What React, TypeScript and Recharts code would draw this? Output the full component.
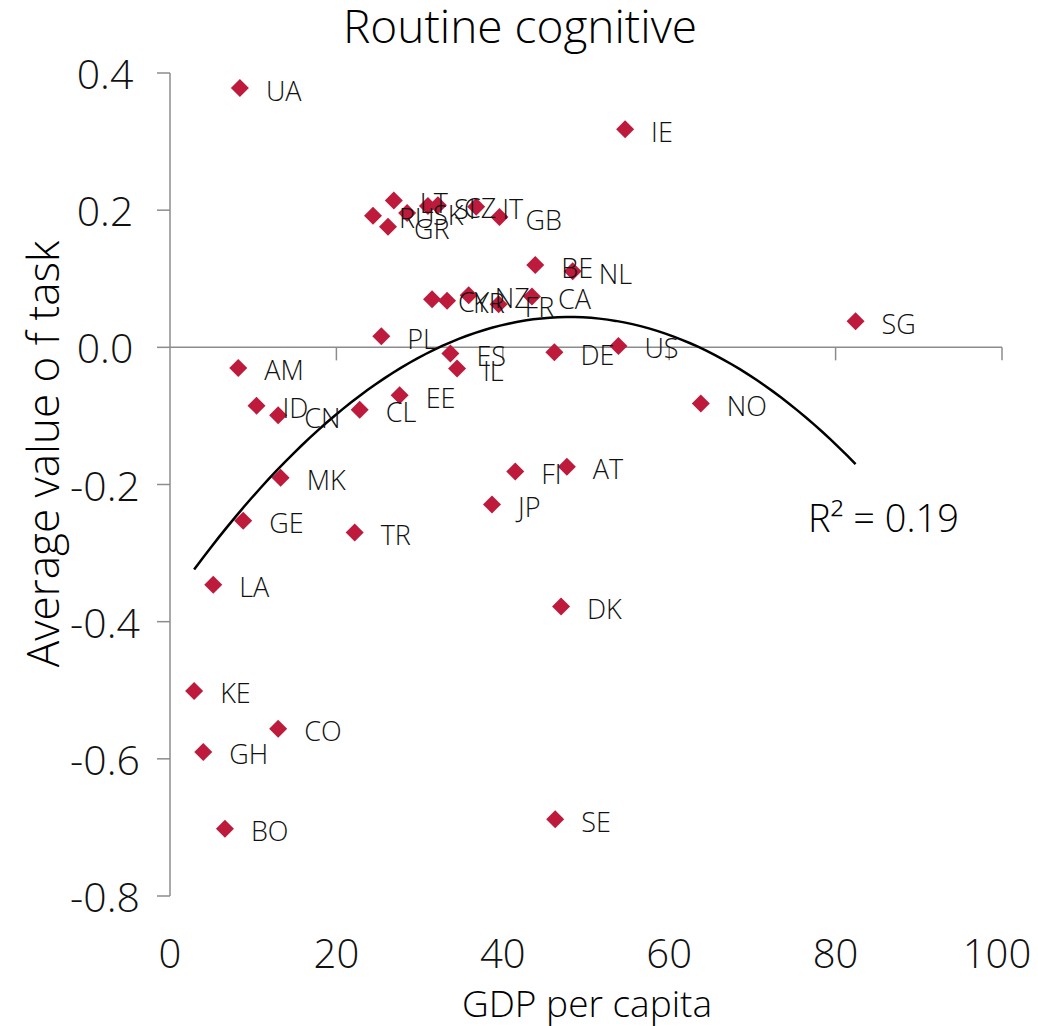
import React from "react";
import { ScatterChart, Scatter, XAxis, YAxis, ReferenceLine } from "recharts";

const countries = ["UA","IE","LT","SI","CZ","IT","GB","RU","SK","GR","BE","NL","CY","KR","NZ","FR","CA","PL","SG","ES","IL","DE","US","AM","ID","CN","EE","CL","NO","MK","FI","AT","GE","JP","TR","LA","DK","KE","CO","GH","BO","SE"];
const gdpPerCapita = [8.4,54.7,26.9,31.0,32.2,36.8,39.6,24.4,28.5,26.2,43.9,48.4,31.5,33.3,35.9,39.5,43.5,25.4,82.4,33.7,34.5,46.2,53.9,8.2,10.4,13.0,27.6,22.8,63.8,13.3,41.5,47.7,8.8,38.7,22.2,5.2,47.0,2.9,13.0,4.0,6.6,46.3];
const taskValue = [0.378,0.318,0.214,0.206,0.207,0.205,0.19,0.192,0.196,0.176,0.12,0.111,0.07,0.068,0.076,0.063,0.074,0.016,0.038,-0.009,-0.031,-0.007,0.002,-0.03,-0.085,-0.099,-0.07,-0.091,-0.082,-0.19,-0.181,-0.174,-0.253,-0.229,-0.27,-0.346,-0.378,-0.501,-0.556,-0.59,-0.702,-0.688];
const xTicks = [0, 20, 40, 60, 80, 100];
const yTicks = [-0.8, -0.6, -0.4, -0.2, 0, 0.2, 0.4];
const titleText = "Routine cognitive";
const xTitle = "GDP per capita";
const yTitle = "Average value o f task";
const rSquaredLabel = "R² = 0.19";

const FONT = "'Open Sans', 'DejaVu Sans', sans-serif";
const WEIGHT = 300;
const RED = "#BE1A3C";
const AXIS = "#8c8c8c";

const points = countries.map((c, i) => ({ name: c, x: gdpPerCapita[i], y: taskValue[i] }));

function fitQuadratic(xs: number[], ys: number[]) {
  const S = [0, 0, 0, 0, 0];
  const T = [0, 0, 0];
  for (let i = 0; i < xs.length; i++) {
    let p = 1;
    for (let k = 0; k < 5; k++) { S[k] += p; p *= xs[i]; }
    T[0] += ys[i]; T[1] += ys[i] * xs[i]; T[2] += ys[i] * xs[i] * xs[i];
  }
  const M = [
    [S[0], S[1], S[2], T[0]],
    [S[1], S[2], S[3], T[1]],
    [S[2], S[3], S[4], T[2]],
  ];
  for (let c = 0; c < 3; c++) {
    for (let r = c + 1; r < 3; r++) {
      const f = M[r][c] / M[c][c];
      for (let k = c; k < 4; k++) M[r][k] -= f * M[c][k];
    }
  }
  const b = [0, 0, 0];
  for (let r = 2; r >= 0; r--) {
    let s = M[r][3];
    for (let k = r + 1; k < 3; k++) s -= M[r][k] * b[k];
    b[r] = s / M[r][r];
  }
  return b;
}

const coef = fitQuadratic(gdpPerCapita, taskValue);
const xMin = Math.min(...gdpPerCapita);
const xMax = Math.max(...gdpPerCapita);
const trend = Array.from({ length: 81 }, (_, i) => {
  const x = xMin + ((xMax - xMin) * i) / 80;
  return { x, y: coef[0] + coef[1] * x + coef[2] * x * x };
});

const Diamond = (props: any) => {
  const { cx, cy } = props;
  const h = 9;
  return <polygon points={`${cx},${cy - h} ${cx + h},${cy} ${cx},${cy + h} ${cx - h},${cy}`} fill={RED} />;
};

const PointLabel = (props: any) => {
  const { cx, cy, payload } = props;
  return (
    <text x={cx + 26} y={cy + 2} dominantBaseline="central" fontSize={27} fontWeight={WEIGHT} fontFamily={FONT} fill="#111">
      {payload.name}
    </text>
  );
};

const Empty = () => <g />;

const XTick = (props: any) => {
  const { x, y, payload, index } = props;
  const last = index === xTicks.length - 1;
  return (
    <text x={x} dx={last ? -5 : 0} y={y + 54} textAnchor="middle" dominantBaseline="central" fontSize={40} fontWeight={WEIGHT} fontFamily={FONT} fill="#111">
      {payload.value}
    </text>
  );
};

const YTick = (props: any) => {
  const { x, y, payload } = props;
  return (
    <text x={x - 50} y={y} textAnchor="middle" dominantBaseline="central" fontSize={41} fontWeight={WEIGHT} fontFamily={FONT} fill="#111">
      {Number(payload.value).toFixed(1)}
    </text>
  );
};

export default function App() {
  return (
    <div style={{ position: "relative", width: 1030, height: 1018, fontFamily: FONT, background: "#fff" }}>
      <ScatterChart width={1030} height={1018} margin={{ top: 65, right: 36, bottom: 8, left: 0 }} style={{ overflow: "visible" }}>
        <XAxis
          type="number"
          dataKey="x"
          domain={[0, 100]}
          ticks={xTicks}
          interval={0}
          axisLine={false}
          tickLine={false}
          tickSize={0}
          height={122}
          tick={<XTick />}
          allowDataOverflow
        />
        <YAxis
          type="number"
          dataKey="y"
          domain={[-0.8, 0.4]}
          ticks={yTicks}
          interval={0}
          width={162}
          axisLine={{ stroke: AXIS, strokeWidth: 1.5 }}
          tickLine={{ stroke: AXIS, strokeWidth: 1.5 }}
          tickSize={13}
          tick={<YTick />}
          allowDataOverflow
        />
        <ReferenceLine y={0} stroke={AXIS} strokeWidth={1.5} />
        {xTicks.filter((t) => t > 0).map((t) => (
          <ReferenceLine key={t} segment={[{ x: t, y: 0 }, { x: t, y: -0.019 }]} stroke={AXIS} strokeWidth={1.5} />
        ))}
        <Scatter data={points} shape={<Diamond />} isAnimationActive={false} />
        <Scatter data={trend} line={{ stroke: "#000", strokeWidth: 2.5 }} lineType="joint" shape={<Empty />} isAnimationActive={false} />
        <Scatter data={points} shape={<PointLabel />} isAnimationActive={false} />
        <text x={512} y={35} textAnchor="middle" fontSize={46} fontWeight={WEIGHT} fontFamily={FONT} fill="#000">{titleText}</text>
        <text x={579} y={1009} textAnchor="middle" fontSize={37} fontWeight={WEIGHT} fontFamily={FONT} fill="#000">{xTitle}</text>
        <text x={34} y={446} transform="rotate(-90 34 446)" textAnchor="middle" dominantBaseline="central" fontSize={44} fontWeight={WEIGHT} fontFamily={FONT} fill="#000">{yTitle}</text>
        <text x={800} y={509} dominantBaseline="central" fontSize={38} fontWeight={WEIGHT} fontFamily={FONT} fill="#000">{rSquaredLabel}</text>
      </ScatterChart>
    </div>
  );
}
